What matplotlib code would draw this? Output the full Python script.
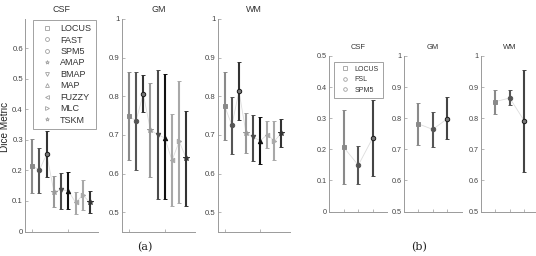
import matplotlib
matplotlib.use('Agg')
import matplotlib.pyplot as plt
import numpy as np

# ---- data ----
methods_a = ['LOCUS', 'FAST', 'SPM5', 'AMAP', 'BMAP', 'MAP', 'FUZZY', 'MLC', 'TSKM']
markers_a = ['s', 'o', 'o', '*', 'v', '^', '<', '>', '*']
colors_a = ['#8a8a8a', '#555555', '#333333', '#999999', '#4a4a4a', '#111111', '#a8a8a8', '#a8a8a8', '#333333']

csf_a_mean = [0.215, 0.202, 0.253, 0.131, 0.137, 0.133, 0.095, 0.119, 0.095]
csf_a_low = [0.125, 0.125, 0.178, 0.079, 0.074, 0.073, 0.058, 0.069, 0.060]
csf_a_high = [0.302, 0.275, 0.330, 0.183, 0.193, 0.195, 0.129, 0.169, 0.132]

gm_a_mean = [0.748, 0.737, 0.806, 0.713, 0.701, 0.692, 0.634, 0.683, 0.639]
gm_a_low = [0.635, 0.608, 0.759, 0.591, 0.533, 0.533, 0.517, 0.524, 0.516]
gm_a_high = [0.862, 0.864, 0.856, 0.834, 0.867, 0.858, 0.753, 0.839, 0.761]

wm_a_mean = [0.774, 0.725, 0.813, 0.705, 0.694, 0.685, 0.701, 0.684, 0.705]
wm_a_low = [0.687, 0.651, 0.739, 0.654, 0.632, 0.625, 0.667, 0.636, 0.668]
wm_a_high = [0.862, 0.799, 0.890, 0.756, 0.752, 0.746, 0.737, 0.735, 0.740]

methods_b = ['LOCUS', 'FSL', 'SPM5']
markers_b = ['s', 'o', 'o']
colors_b = ['#8a8a8a', '#555555', '#444444']

csf_b_mean = [0.206, 0.149, 0.237]
csf_b_low = [0.088, 0.087, 0.115]
csf_b_high = [0.326, 0.212, 0.358]

gm_b_mean = [0.782, 0.764, 0.798]
gm_b_low = [0.714, 0.707, 0.732]
gm_b_high = [0.850, 0.820, 0.867]

wm_b_mean = [0.853, 0.865, 0.792]
wm_b_low = [0.813, 0.842, 0.626]
wm_b_high = [0.891, 0.890, 0.956]

W, H = 536, 256
plt.rcParams['font.family'] = ['Liberation Sans', 'DejaVu Sans']
fig = plt.figure(figsize=(W / 100, H / 100), dpi=100)

FS = 5.6
SPINE = '#9a9a9a'


def add_ax(x0, x1, y0, y1):
    # pixel box -> figure fraction
    return fig.add_axes([x0 / W, 1 - y1 / H, (x1 - x0) / W, (y1 - y0) / H])


def panel(ax, x, mean, low, high, colors, markers, title, ylim, yticks, xlim, xticks,
          tfs=6.4, tpad=4.8, lfs=FS):
    mean = np.array(mean)
    ax.plot(x, mean, color='#dddddd', lw=0.6, zorder=1)
    for i in range(len(x)):
        err = [[mean[i] - low[i]], [high[i] - mean[i]]]
        face = colors[i]
        edge = colors[i]
        if i == 2:
            face = '#777777'
            edge = '#1a1a1a'
        ax.errorbar(x[i], mean[i], yerr=err, fmt=markers[i], color=colors[i],
                    mfc=face, mec=edge, mew=0.7, ms=3.2 if markers[i] != '*' else 4.4,
                    elinewidth=1.5, capsize=1.2, capthick=0.9, zorder=3)
    ax.set_xlim(xlim)
    ax.set_ylim(ylim)
    ax.set_yticks(yticks)
    ax.set_yticklabels([('%g' % t) for t in yticks])
    ax.set_xticks(xticks)
    ax.set_xticklabels([])
    for s in ['top', 'right']:
        ax.spines[s].set_visible(False)
    for s in ['left', 'bottom']:
        ax.spines[s].set_color(SPINE)
        ax.spines[s].set_linewidth(0.7)
    ax.tick_params(direction='in', length=2, width=0.5, colors=SPINE,
                   labelsize=lfs, labelcolor='#444444', pad=1.5)
    ax.set_title(title, fontsize=tfs, color='#333333', pad=tpad)


xa = np.arange(9)
xb = np.arange(1, 4)

# panel (a)
ax1 = add_ax(25, 98, 19, 231.5)
panel(ax1, xa, csf_a_mean, csf_a_low, csf_a_high, colors_a, markers_a, 'CSF',
      (0, 0.696), np.arange(0, 0.61, 0.1), (-1, 9.1), [0, 5])
fig.text(5.5 / W, 1 - 127 / H, 'Dice Metric', rotation=90, ha='center', va='center',
         fontsize=7.2, color='#222222')

ax2 = add_ax(121.7, 195, 19, 231.5)
panel(ax2, xa, gm_a_mean, gm_a_low, gm_a_high, colors_a, markers_a, 'GM',
      (0.45, 1.0), [0.5, 0.6, 0.7, 0.8, 0.9, 1.0], (-1, 9.2), [0, 5])

ax3 = add_ax(217.7, 290, 19, 231.5)
panel(ax3, xa, wm_a_mean, wm_a_low, wm_a_high, colors_a, markers_a, 'WM',
      (0.45, 1.0), [0.5, 0.6, 0.7, 0.8, 0.9, 1.0], (-1, 9.2), [0, 5])

# legend (a)
handles = [plt.Line2D([], [], ls='none', marker=m, mfc='none', mec='#a0a0a0',
                      mew=0.6, ms=2.8) for m in markers_a]
leg = ax1.legend(handles, methods_a, loc='upper left', bbox_to_anchor=(0.105, 0.997),
                 fontsize=6.5, frameon=True, fancybox=False, borderpad=0.5,
                 handlelength=2.2, handletextpad=0.35, labelspacing=0.27,
                 borderaxespad=0)
leg.get_frame().set_edgecolor('#777777')
leg.get_frame().set_linewidth(0.6)
for t in leg.get_texts():
    t.set_color('#333333')

# panel (b)
ax4 = add_ax(329.3, 387.3, 56, 211.5)
panel(ax4, xb, csf_b_mean, csf_b_low, csf_b_high, colors_b, markers_b, 'CSF',
      (0, 0.5), [0, 0.1, 0.2, 0.3, 0.4, 0.5], (0, 4), [1, 2, 3], tfs=5.4, tpad=4.7, lfs=5.2)

ax5 = add_ax(403.7, 461.7, 56, 211.5)
panel(ax5, xb, gm_b_mean, gm_b_low, gm_b_high, colors_b, markers_b, 'GM',
      (0.5, 1.0), [0.5, 0.6, 0.7, 0.8, 0.9, 1.0], (0, 4), [1, 2, 3], tfs=5.4, tpad=4.7, lfs=5.2)

ax6 = add_ax(480.7, 538.7, 56, 211.5)
panel(ax6, xb, wm_b_mean, wm_b_low, wm_b_high, colors_b, markers_b, 'WM',
      (0.5, 1.0), [0.5, 0.6, 0.7, 0.8, 0.9, 1.0], (0, 4), [1, 2, 3], tfs=5.4, tpad=4.7, lfs=5.2)

handles_b = [plt.Line2D([], [], ls='none', marker=m, mfc='none', mec='#a0a0a0',
                        mew=0.6, ms=2.6) for m in markers_b]
leg2 = ax4.legend(handles_b, methods_b, loc='upper left', bbox_to_anchor=(0.08, 0.963),
                  fontsize=5.0, frameon=True, fancybox=False, borderpad=0.6,
                  handlelength=2.0, handletextpad=0.4, labelspacing=0.5,
                  borderaxespad=0)
leg2.get_frame().set_edgecolor('#777777')
leg2.get_frame().set_linewidth(0.6)
for t in leg2.get_texts():
    t.set_color('#333333')

fig.text(145 / W, 1 - 247 / H, '(a)', ha='center', va='center', fontsize=8,
         family='DejaVu Serif', color='#222222')
fig.text(419 / W, 1 - 247 / H, '(b)', ha='center', va='center', fontsize=8,
         family='DejaVu Serif', color='#222222')

fig.savefig('out.png', dpi=100)
